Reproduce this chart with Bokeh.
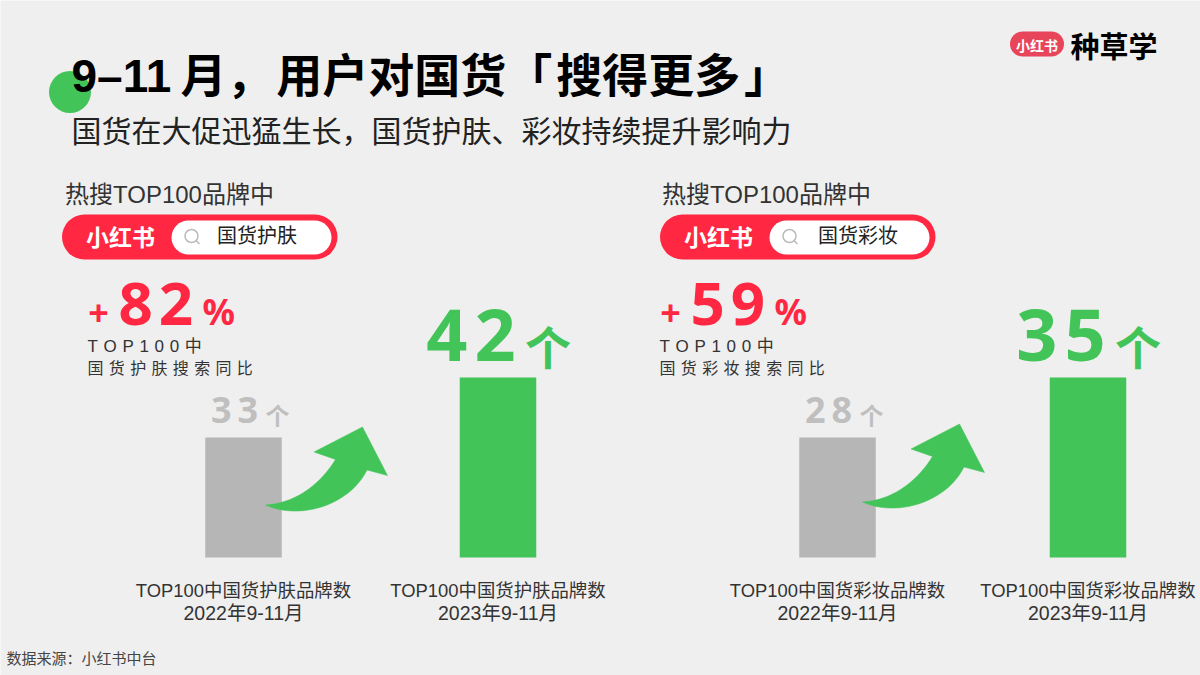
from bokeh.plotting import figure
from bokeh.models import Range1d, Label, ColumnDataSource
from bokeh.embed import file_html
from bokeh.resources import INLINE

# ---- data ----
years = [2022, 2023]
skin_counts = [33, 42]
makeup_counts = [28, 35]
skin_caption = ["TOP100中国货护肤品牌数", "TOP100中国货护肤品牌数"]
makeup_caption = ["TOP100中国货彩妆品牌数", "TOP100中国货彩妆品牌数"]
period_labels = ["2022年9-11月", "2023年9-11月"]
skin_growth = 82
makeup_growth = 59
title = "9–11\u2009月，\u200a用户对国货「\u200a搜得更多\u200a」"
subtitle = "国货在大促迅猛生长，国货护肤、彩妆持续提升影响力"
hot_search = "热搜TOP100品牌中"
search_terms = ["国货护肤", "国货彩妆"]
yoy_lines = ["TOP100中", "国货护肤搜索同比", "国货彩妆搜索同比"]
brand = "小红书"
brand_suffix = "种草学"
source_note = "数据来源：小红书中台"
unit = "个"

BG = "#efefef"; GREEN = "#43c459"; GREY = "#b6b6b6"; RED = "#ff2741"
FONT = "'Liberation Sans','Noto Sans CJK SC',sans-serif"
NUM = "'Noto Sans','Noto Sans CJK SC',sans-serif"
CJK = "'Noto Sans CJK SC',sans-serif"
HAIR = "\u200a"; THIRD = "\u2004"
spaced = lambda s, sep: sep.join(str(s))

p = figure(width=1200, height=675, output_backend="svg", toolbar_location=None,
           x_range=Range1d(0, 1200), y_range=Range1d(675, 0), min_border=0,
           background_fill_color=BG, border_fill_color=BG, outline_line_color=None)
p.axis.visible = False
p.grid.visible = False

# Panel scales: each panel's years and counts map through its own hidden ranges.
def panel_ranges(name, x22, x23, base, px_per_unit):
    per_year = x23 - x22
    x0 = years[0] - x22 / per_year
    p.extra_x_ranges[name] = Range1d(x0, x0 + 1200 / per_year)
    p.extra_y_ranges[name] = Range1d(base - 118 / px_per_unit, base + 557 / px_per_unit)
    return 76.5 / per_year

def label(x, y, text, size, color="#222222", bold=False, align="left", font=FONT):
    p.add_layout(Label(x=x, y=y, text=text, text_font=font, text_font_size=f"{size}px",
                       text_color=color, text_font_style="bold" if bold else "normal",
                       text_align=align, text_baseline="middle"))

def bez(a, b, c, d, n=24):
    out = []
    for i in range(n + 1):
        t = i / n; u = 1 - t
        out.append(tuple(u**3*a[k] + 3*u*u*t*b[k] + 3*u*t*t*c[k] + t**3*d[k] for k in (0, 1)))
    return out

def arrow(dx, dy):
    pts = bez((265, 504.5), (299, 520), (349, 505), (366.5, 469.5))
    pts += [(387, 475), (362, 426.5), (313.5, 451.5), (335, 459)]
    pts += bez((335, 459), (317, 488), (291, 503), (265, 504.5))
    p.patch([a + dx for a, b in pts], [b + dy for a, b in pts], fill_color=GREEN, line_color=GREEN, line_width=0.5)

def panel(name, counts, captions, base, x22, x23, px, growth, yoy, term, off, arrow_dx, arrow_dy, gx):
    bw = panel_ranges(name, x22, x23, base, px)
    src = ColumnDataSource(dict(x=years, top=counts, bottom=[base, base],
                                color=[GREY, GREEN], cap=captions, per=period_labels))
    p.vbar(x="x", top="top", bottom="bottom", width=bw, fill_color="color", line_color=None,
           source=src, x_range_name=name, y_range_name=name)
    # captions hang a fixed distance under the bars
    p.text(x="x", y="bottom", text="cap", source=src, x_range_name=name, y_range_name=name,
           text_font={"value": FONT}, text_font_size="18.4px", text_color="#333333",
           text_align="center", text_baseline="middle", y_offset=33)
    p.text(x="x", y="bottom", text="per", source=src, x_range_name=name, y_range_name=name,
           text_font={"value": FONT}, text_font_size="19.5px", text_color="#333333",
           text_align="center", text_baseline="middle", y_offset=55)
    # value labels
    g = dict(x=[years[0]], y=[counts[0]], t=[spaced(counts[0], "\u2009")])
    p.text(x="x", y="y", text="t", source=ColumnDataSource(g), x_range_name=name, y_range_name=name,
           text_font={"value": NUM}, text_font_style="bold", text_font_size="36px", text_color="#bfbfbf",
           text_align="center", text_baseline="middle", x_offset=gx[0], y_offset=-28)
    p.text(x=[years[0]], y=[counts[0]], text=[unit], x_range_name=name, y_range_name=name,
           text_font={"value": CJK}, text_font_style="bold", text_font_size="24px", text_color="#bfbfbf",
           text_align="center", text_baseline="middle", x_offset=gx[1], y_offset=-23)
    g = dict(x=[years[1]], y=[counts[1]], t=[spaced(counts[1], HAIR)])
    p.text(x="x", y="y", text="t", source=ColumnDataSource(g), x_range_name=name, y_range_name=name,
           text_font={"value": NUM}, text_font_style="bold", text_font_size="72px", text_color=GREEN,
           text_align="center", text_baseline="middle", x_offset=gx[2], y_offset=-45)
    p.text(x=[years[1]], y=[counts[1]], text=[unit], x_range_name=name, y_range_name=name,
           text_font={"value": CJK}, text_font_style="bold", text_font_size="46px", text_color=GREEN,
           text_align="center", text_baseline="middle", x_offset=gx[3], y_offset=-33)
    arrow(arrow_dx, arrow_dy)

    # search pill
    p.line([84 + off, 314.5 + off], [236.5, 236.5], line_width=45, line_color=RED, line_cap="round")
    p.line([188 + off, 314 + off], [237, 237], line_width=34, line_color="white", line_cap="round")
    p.circle([191 + off], [235.5], radius=6.5, radius_units="screen", fill_color=None, line_color="#bbbbbb", line_width=1.5)
    p.line([195.5 + off, 199 + off], [240, 243.5], line_color="#bbbbbb", line_width=1.5)
    label(120 + off, 235, brand, 23, "white", True, "center", CJK)
    label(256.5 + off + (3 if off else 0), 235.5, term, 20, "#222222", False, "center", FONT)
    label(64.5 + off - (1 if off else 0), 194, hot_search, 24, "#333333")

    # growth call-out
    gx0 = 87 if off < 100 else 659
    label(gx0 + 11, 312, "+", 36, RED, True, "center", NUM)
    label(gx0 + 31, 301, spaced(growth, HAIR), 60, RED, True, "left", NUM)
    label(gx0 + 115, 311, "%", 36, RED, True, "left", NUM)
    label(gx0, 346, spaced(yoy_lines[0], THIRD), 17, "#333333")
    label(gx0, 368, spaced(yoy, THIRD), 16, "#333333")

# decoration behind the title
p.circle([69.5], [91.5], radius=21, radius_units="screen", fill_color=GREEN, line_color=None)
label(71, 75, title, 46, "#000000", True)
label(71, 131, subtitle, 30, "#222222")

panel("skin", skin_counts, skin_caption, 15, 243, 497.5, 120 / 18, skin_growth, yoy_lines[1], search_terms[0], 0, 0, 0, (-9, 34, -27, 50))
panel("makeup", makeup_counts, makeup_caption, 14, 837, 1087.5, 120 / 14, makeup_growth, yoy_lines[2], search_terms[1], 598, 597, -3, (-9, 34, -27, 50))

# top-right brand mark
p.line([1022, 1051], [43.5, 43.5], line_width=25, line_color="#e8455a", line_cap="round")
label(1036.5, 44, brand, 14, "white", True, "center", CJK)
label(1070, 44, brand_suffix, 29, "#000000", True, "left", CJK)

label(6, 658, source_note, 15, "#444444")

open("out.html", "w").write(file_html(p, INLINE))
